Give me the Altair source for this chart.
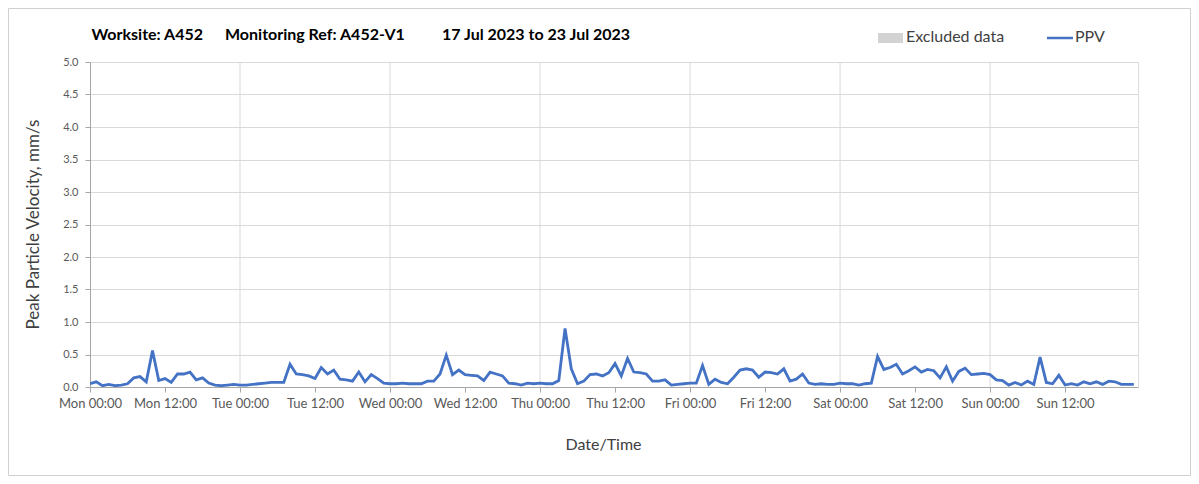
import altair as alt
import pandas as pd

# ---- data (hourly PPV readings, mm/s) ----
mon = [0.05, 0.08, 0.02, 0.04, 0.02, 0.03, 0.05, 0.14, 0.16, 0.08, 0.56, 0.10,
       0.13, 0.07, 0.20, 0.20, 0.23, 0.11, 0.14, 0.06, 0.03, 0.02, 0.03, 0.04]
tue = [0.03, 0.03, 0.04, 0.05, 0.06, 0.07, 0.07, 0.07, 0.35, 0.20, 0.19, 0.17,
       0.13, 0.30, 0.20, 0.26, 0.12, 0.11, 0.09, 0.23, 0.08, 0.19, 0.13, 0.06]
wed = [0.05, 0.05, 0.06, 0.05, 0.05, 0.05, 0.09, 0.09, 0.20, 0.49, 0.19, 0.26,
       0.19, 0.18, 0.17, 0.10, 0.23, 0.20, 0.17, 0.06, 0.05, 0.03, 0.06, 0.05]
thu = [0.06, 0.05, 0.05, 0.10, 0.90, 0.28, 0.05, 0.09, 0.19, 0.20, 0.17, 0.22,
       0.36, 0.17, 0.44, 0.23, 0.22, 0.20, 0.09, 0.09, 0.11, 0.03, 0.04, 0.05]
fri = [0.06, 0.06, 0.33, 0.04, 0.12, 0.07, 0.05, 0.15, 0.26, 0.28, 0.26, 0.15,
       0.23, 0.22, 0.20, 0.28, 0.09, 0.12, 0.20, 0.06, 0.04, 0.05, 0.04, 0.04]
sat = [0.06, 0.05, 0.05, 0.03, 0.05, 0.06, 0.47, 0.27, 0.30, 0.35, 0.20, 0.25,
       0.31, 0.23, 0.27, 0.25, 0.14, 0.31, 0.09, 0.24, 0.29, 0.19, 0.20, 0.21]
sun = [0.19, 0.11, 0.10, 0.03, 0.07, 0.03, 0.09, 0.04, 0.46, 0.07, 0.05, 0.18,
       0.03, 0.05, 0.03, 0.08, 0.05, 0.08, 0.04, 0.09, 0.08, 0.04, 0.04, 0.04]

ppv = mon + tue + wed + thu + fri + sat + sun
start = "2023-07-17 00:00"
times = pd.date_range(start, periods=len(ppv), freq="h")
y_ticks = [0.0, 0.5, 1.0, 1.5, 2.0, 2.5, 3.0, 3.5, 4.0, 4.5, 5.0]
day_starts = [17, 18, 19, 20, 21, 22, 23]
title_parts = ["Worksite: A452", "Monitoring Ref: A452-V1", "17 Jul 2023 to 23 Jul 2023"]
legend_labels = ["Excluded data", "PPV"]

FONT = "Lato"
BLUE = "#4472C4"

df = pd.DataFrame({"time": times, "ppv": ppv})

x_ticks = [alt.DateTime(year=2023, month=7, date=d, hours=h) for d in day_starts for h in (0, 12)]
x_dom = [alt.DateTime(year=2023, month=7, date=17, hours=0),
         alt.DateTime(year=2023, month=7, date=23, hours=23, minutes=40)]

xs = alt.Scale(domain=x_dom)
ys = alt.Scale(domain=[0, 5])

grid_days = alt.Chart(pd.DataFrame({
    "t": [pd.Timestamp(2023, 7, d) for d in day_starts[1:]]
})).mark_rule(color="#d9d9d9", strokeWidth=1).encode(
    x=alt.X("t:T", scale=xs)
)

line = alt.Chart(df).mark_line(color=BLUE, strokeWidth=2.8, clip=True).encode(
    x=alt.X("time:T", scale=xs, title="Date/Time",
            axis=alt.Axis(values=x_ticks, format="%a %H:%M", grid=False,
                          labelFont=FONT, labelFontSize=13, labelColor="#595959",
                          labelPadding=5, tickSize=5, tickColor="#a6a6a6",
                          domainColor="#a6a6a6", labelFlush=False,
                          titleFont=FONT, titleFontSize=16, titleFontWeight="normal",
                          titleColor="#404040", titleX=513, titleY=57,
                          titleBaseline="middle", titleAlign="center")),
    y=alt.Y("ppv:Q", scale=ys, title="Peak Particle Velocity, mm/s",
            axis=alt.Axis(values=y_ticks, format=".1f", grid=True,
                          gridColor="#d9d9d9", labelFont=FONT, labelFontSize=11,
                          labelColor="#595959", labelPadding=7, tickSize=5,
                          tickColor="#a6a6a6", domainColor="#a6a6a6",
                          titleFont=FONT, titleFontSize=17, titleFontWeight="normal",
                          titleColor="#404040", titleX=-57, titleY=162,
                          titleBaseline="middle", titleAlign="center", titleAngle=270)),
)

title_df = pd.DataFrame({"txt": title_parts, "px": [1.5, 135, 352]})
title = alt.Chart(title_df).mark_text(
    font=FONT, fontSize=16, fontWeight="bold", color="#000000",
    align="left", baseline="alphabetic"
).encode(x=alt.X("px:Q", scale=None), y=alt.value(-22), text="txt:N")

leg_swatch = alt.Chart(pd.DataFrame({"k": [legend_labels[0]]})).mark_rect(color="#d3d3d3").encode(
    x=alt.value(788), x2=alt.value(813), y=alt.value(-29), y2=alt.value(-19)
)
leg_line = alt.Chart(pd.DataFrame({"k": [legend_labels[1]]})).mark_rule(color=BLUE, strokeWidth=2.5).encode(
    x=alt.value(957), x2=alt.value(983), y=alt.value(-24)
)
leg_text = alt.Chart(pd.DataFrame({"txt": legend_labels, "px": [816, 985]})).mark_text(
    font=FONT, fontSize=16, color="#404040", align="left", baseline="alphabetic"
).encode(x=alt.X("px:Q", scale=None), y=alt.value(-20), text="txt:N")

frame = alt.Chart(pd.DataFrame({"k": [0]})).mark_rect(
    fill=None, stroke="#d0d0d0", strokeWidth=1
).encode(x=alt.value(-81.5), x2=alt.value(1100.5), y=alt.value(-53.5), y2=alt.value(413.5))

chart = alt.layer(frame, grid_days, line, title, leg_swatch, leg_line, leg_text).properties(
    width=1048, height=325,
    autosize=alt.AutoSizeParams(type="none"),
    padding={"left": 82, "top": 54, "right": 53, "bottom": 89},
).configure_view(stroke="#bfbfbf").configure(background="white")

chart.save("out.html", embed_options={"renderer": "svg", "actions": False})
